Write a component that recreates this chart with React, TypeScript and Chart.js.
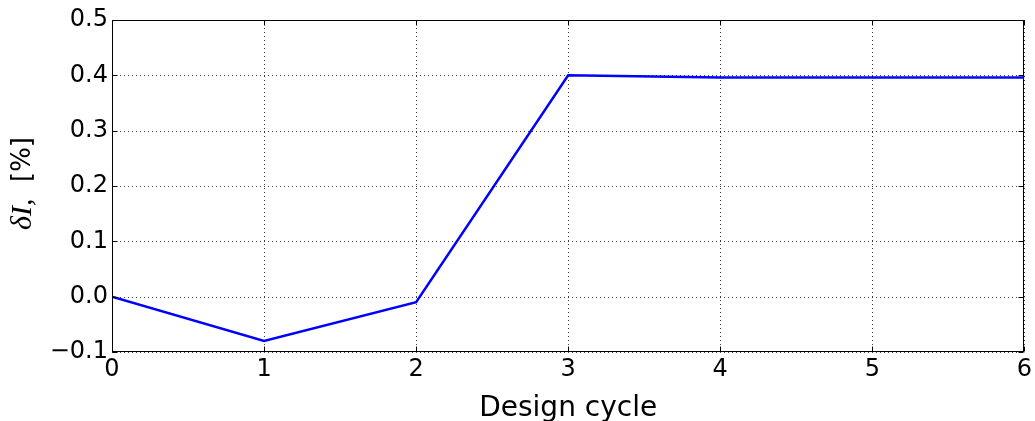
import React, { useEffect, useRef } from "react";
import { Chart, registerables } from "chart.js";

Chart.register(...registerables);

// Relative change of the quantity δI over successive design cycles
const cycles = [0, 1, 2, 3, 4, 5, 6];
const deltaI = [0.0, -0.08, -0.01, 0.4, 0.396, 0.396, 0.396];
const xTickValues = [0, 1, 2, 3, 4, 5, 6];
const yTickValues = [-0.1, 0.0, 0.1, 0.2, 0.3, 0.4, 0.5];
const xTitle = "Design cycle";
const yTitleMath = "δI,";
const yTitleUnit = "[%]";

const SANS = "'DejaVu Sans', sans-serif";

const fmtY = (v: number) => {
  const n = Math.abs(v) < 1e-9 ? 0 : v;
  return (n < 0 ? "\u2212" : "") + Math.abs(n).toFixed(1);
};

// Dotted grid, boxed frame, inward ticks on all four sides and the y-axis label
const framePlugin = {
  id: "frame",
  beforeDatasetsDraw(chart: any) {
    const { ctx, chartArea: a, scales } = chart;
    const xs = scales.x;
    const ys = scales.y;
    ctx.save();
    ctx.strokeStyle = "rgba(0,0,0,0.75)";
    ctx.lineWidth = 1;
    ctx.setLineDash([1, 3]);
    for (const v of xTickValues) {
      const px = Math.round(xs.getPixelForValue(v)) + 0.5;
      ctx.beginPath();
      ctx.moveTo(px, a.top);
      ctx.lineTo(px, a.bottom);
      ctx.stroke();
    }
    for (const v of yTickValues) {
      const py = Math.round(ys.getPixelForValue(v)) + 0.5;
      ctx.beginPath();
      ctx.moveTo(a.left, py);
      ctx.lineTo(a.right, py);
      ctx.stroke();
    }
    ctx.restore();
  },
  afterDatasetsDraw(chart: any) {
    const { ctx, chartArea: a, scales } = chart;
    const xs = scales.x;
    const ys = scales.y;
    const L = Math.round(a.left) + 0.5;
    const R = Math.round(a.right) - 0.5;
    const T = Math.round(a.top) + 0.5;
    const B = Math.round(a.bottom) - 0.5;
    const tl = 5;
    ctx.save();
    ctx.strokeStyle = "#000";
    ctx.lineWidth = 1;
    ctx.setLineDash([]);
    ctx.strokeRect(L, T, R - L, B - T);
    ctx.beginPath();
    for (const v of xTickValues) {
      const px = Math.round(xs.getPixelForValue(v)) + 0.5;
      ctx.moveTo(px, B);
      ctx.lineTo(px, B - tl);
      ctx.moveTo(px, T);
      ctx.lineTo(px, T + tl);
    }
    for (const v of yTickValues) {
      const py = Math.round(ys.getPixelForValue(v)) + 0.5;
      ctx.moveTo(L, py);
      ctx.lineTo(L + tl, py);
      ctx.moveTo(R, py);
      ctx.lineTo(R - tl, py);
    }
    ctx.stroke();

    // y-axis label: italic math part followed by the unit, read bottom to top
    const mathFont = "italic 30px 'Liberation Serif', serif";
    const unitFont = `26px ${SANS}`;
    ctx.font = unitFont;
    const w2 = ctx.measureText(yTitleUnit).width;
    const cx = 23;
    const bottomY = 230;
    const topY = 137;
    ctx.translate(cx, 0);
    ctx.rotate(-Math.PI / 2);
    ctx.fillStyle = "#000";
    ctx.textBaseline = "middle";
    ctx.textAlign = "left";
    ctx.font = mathFont;
    ctx.fillText(yTitleMath, -bottomY, 0);
    ctx.font = unitFont;
    ctx.fillText(yTitleUnit, -(topY + w2), 0);
    ctx.restore();
  },
};

export default function App() {
  const canvasRef = useRef<HTMLCanvasElement | null>(null);

  useEffect(() => {
    const canvas = canvasRef.current;
    if (!canvas) return;
    const chart = new Chart(canvas, {
      type: "line",
      data: {
        datasets: [
          {
            data: cycles.map((c, i) => ({ x: c, y: deltaI[i] })),
            borderColor: "#0000ff",
            borderWidth: 2.5,
            pointRadius: 0,
            fill: false,
            tension: 0,
          },
        ],
      },
      options: {
        responsive: false,
        animation: false,
        devicePixelRatio: 1,
        layout: { padding: { top: 20, right: 8, left: 0, bottom: 0 } },
        plugins: {
          legend: { display: false },
          tooltip: { enabled: false },
        },
        scales: {
          x: {
            type: "linear",
            min: 0,
            max: 6,
            afterBuildTicks: (scale: any) => {
              scale.ticks = xTickValues.map((v) => ({ value: v }));
            },
            afterFit: (scale: any) => {
              scale.height = 69;
            },
            grid: { display: false, drawTicks: false },
            border: { display: false },
            ticks: {
              color: "#000",
              padding: 3,
              maxRotation: 0,
              font: { family: SANS, size: 24 },
              callback: (v: any) => String(v),
            },
            title: {
              display: true,
              text: xTitle,
              color: "#000",
              font: { family: SANS, size: 28, lineHeight: 0.9 },
              padding: { top: 0, bottom: 0 },
            },
          },
          y: {
            type: "linear",
            min: -0.1,
            max: 0.5,
            afterBuildTicks: (scale: any) => {
              scale.ticks = yTickValues.map((v) => ({ value: v }));
            },
            afterFit: (scale: any) => {
              scale.width = 112;
            },
            grid: { display: false, drawTicks: false },
            border: { display: false },
            ticks: {
              color: "#000",
              padding: 4,
              font: { family: SANS, size: 24 },
              callback: (v: any) => fmtY(Number(v)),
            },
          },
        },
      },
      plugins: [framePlugin],
    });
    return () => chart.destroy();
  }, []);

  return (
    <div style={{ position: "absolute", left: 0, top: 0, width: 1035, height: 421, background: "#fff" }}>
      <canvas ref={canvasRef} width={1035} height={421} />
    </div>
  );
}
